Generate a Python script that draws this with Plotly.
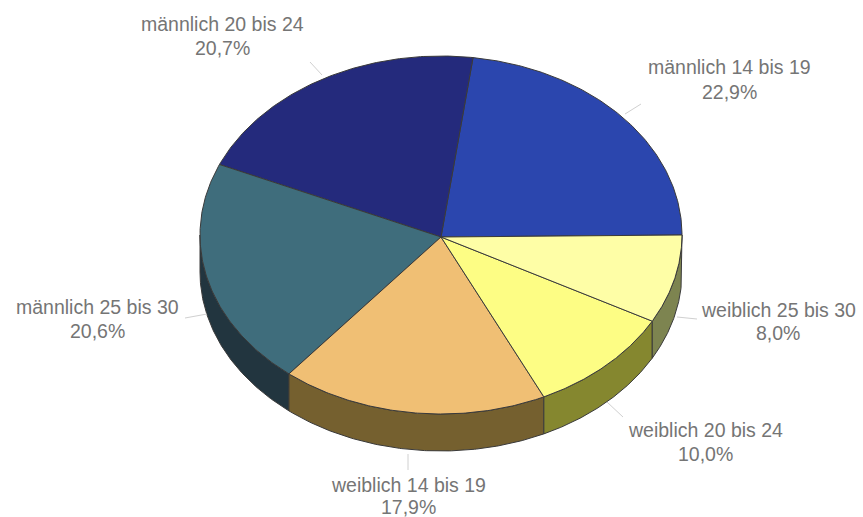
import numpy as np
import plotly.graph_objects as go

# Altersgruppen und Anteile in Prozent, gegen den Uhrzeigersinn ab 3 Uhr
categories = ["männlich 14 bis 19", "männlich 20 bis 24", "männlich 25 bis 30",
              "weiblich 14 bis 19", "weiblich 20 bis 24", "weiblich 25 bis 30"]
shares = [22.9, 20.7, 20.6, 17.9, 10.0, 8.0]

top_colors = ["#2b46ae", "#242a7c", "#3f6d7c", "#f0bf74", "#fdfd84", "#fefea6"]
side_colors = ["#1a2a68", "#15194a", "#22353f", "#75602f", "#85872f", "#7d8450"]

# Lage der Beschriftungen: Mitte x, y Name, y Prozent
label_x = [729, 222, 97, 408, 705, 778]
label_y_name = [67, 24, 307, 485, 430, 310]
label_y_pct = [92, 48, 331, 507, 454, 333]

# Führungslinien von der Beschriftung zum Tortenrand
leaders = [((625, 114), (641, 104)), ((310, 62), (322, 75)), ((185, 318), (207, 314)),
           ((408, 454), (408, 470)), ((607, 402), (623, 417)), ((677, 317), (697, 319))]

# Ellipsengeometrie der gekippten Torte; die Spitze liegt knapp unter der Ellipsenmitte
CX, CY, RX, RY, DEPTH = 441, 235, 241, 179, 37
APEX_Y = 237
EDGE = "#3a3a3a"
WIDTH, HEIGHT = 863, 517


def rim(a0, a1, n=120):
    t = np.radians(np.linspace(a0, a1, n))
    return CX + RX * np.cos(t), CY - RY * np.sin(t)


fractions = np.array(shares) / sum(shares)
ends = np.cumsum(fractions) * 360
starts = np.concatenate([[0], ends[:-1]])

fig = go.Figure()


def polygon(x, y, fill, line_width=1.0):
    fig.add_trace(go.Scatter(x=x, y=y, mode="lines", fill="toself", fillcolor=fill,
                             line=dict(color=EDGE, width=line_width),
                             hoverinfo="skip", showlegend=False))


# Seitenwand: nur der vordere Teil der Ellipse (180° bis 360°) ist sichtbar
for a0, a1, color in zip(starts, ends, side_colors):
    lo, hi = max(a0, 180), min(a1, 360)
    if lo < hi:
        x, y = rim(lo, hi)
        polygon(np.concatenate([x, x[::-1], x[:1]]),
                np.concatenate([y, y[::-1] + DEPTH, y[:1]]), color)

# Deckfläche
for a0, a1, color in zip(starts, ends, top_colors):
    x, y = rim(a0, a1)
    polygon(np.concatenate([[CX], x, [CX]]), np.concatenate([[APEX_Y], y, [APEX_Y]]), color)

# Führungslinien
for (p0, p1) in leaders:
    fig.add_trace(go.Scatter(x=[p0[0], p1[0]], y=[p0[1], p1[1]], mode="lines",
                             line=dict(color="#d0d0d0", width=1),
                             hoverinfo="skip", showlegend=False))

# Beschriftungen
def label(x, y, text):
    fig.add_annotation(x=x, y=y, xref="x", yref="y", text=text, showarrow=False,
                       xanchor="center", yanchor="middle",
                       font=dict(family="Liberation Sans, Arial, sans-serif",
                                 size=19.5, color="#757575"))


for name, value, lx, ly, py in zip(categories, shares, label_x, label_y_name, label_y_pct):
    label(lx, ly, name)
    label(lx, py, f"{value:.1f}%".replace(".", ","))

fig.update_layout(
    width=WIDTH, height=HEIGHT, margin=dict(l=0, r=0, t=0, b=0),
    paper_bgcolor="white", plot_bgcolor="white",
    xaxis=dict(range=[0, WIDTH], visible=False, fixedrange=True),
    yaxis=dict(range=[HEIGHT, 0], visible=False, fixedrange=True),
)
fig.write_html("out.html", config=dict(displayModeBar=False))
